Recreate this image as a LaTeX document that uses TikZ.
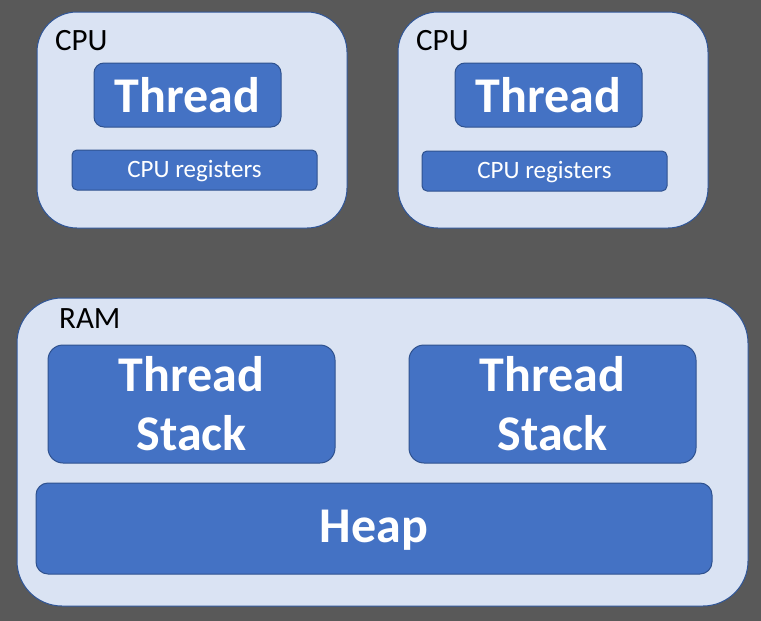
\documentclass[tikz,border=0pt]{standalone}
\usepackage{fontspec}
\setmainfont{Carlito}
\usepackage{xcolor}
\usetikzlibrary{positioning}

\definecolor{bggray}{HTML}{595959}
\definecolor{unitfill}{HTML}{DAE3F3}
\definecolor{unitline}{HTML}{2F5597}
\definecolor{partfill}{HTML}{4472C4}
\definecolor{partline}{HTML}{2F528F}

\tikzset{
	unit/.style = {draw = unitline, fill = unitfill, line width = 1pt, inner sep = 0pt},
	part/.style = {draw = partline, fill = partfill, line width = 1pt, inner sep = 0pt,
		text = white, align = center},
	unitlabel/.style = {anchor = base west, inner sep = 0pt, font = \fontsize{31}{37}\selectfont},
	big/.style = {font = \fontsize{50}{59}\selectfont\bfseries},
	small/.style = {font = \fontsize{25}{30}\selectfont}
}

\begin{document}
\begin{tikzpicture}[x = 1pt, y = -1pt]
		\def\cpuw{310};
		\def\cpuh{216};
		
		\fill [bggray] (0,0) rectangle (761,621);
		\useasboundingbox (0,0) rectangle (761,621);
		
		% two CPUs
		\node [unit, rounded corners = 40pt, minimum width = \cpuw pt, minimum height = \cpuh pt] (cpuA) at (192, 120) {};
		\node [unit, rounded corners = 40pt, minimum width = \cpuw pt, minimum height = \cpuh pt] (cpuB) at (553, 120) {};
		\node [unitlabel] (cpuAlabel) at (55, 50) {CPU};
		\node [unitlabel] (cpuBlabel) at (416, 50) {CPU};
		
		\node [part, big, rounded corners = 10pt, minimum width = 187pt, minimum height = 64pt] (threadA) at (187.5, 95) {Thread};
		\node [part, big, rounded corners = 10pt, minimum width = 187pt, minimum height = 64pt] (threadB) at (548.5, 95) {Thread};
		\node [part, small, rounded corners = 5pt, minimum width = 245pt, minimum height = 40pt, text depth = 2pt] (regsA) at (194.5, 170) {CPU registers};
		\node [part, small, rounded corners = 5pt, minimum width = 245pt, minimum height = 40pt, text depth = 2pt] (regsB) at (544.5, 171) {CPU registers};
		
		% memory
		\node [unit, rounded corners = 45pt, minimum width = 731pt, minimum height = 308pt] (ram) at (382.5, 452) {};
		\node [unitlabel] (ramlabel) at (59, 328) {RAM};
		
		\node [part, big, rounded corners = 15pt, minimum width = 287pt, minimum height = 118pt] (stackA) at (191.5, 404) {Thread\\Stack};
		\node [part, big, rounded corners = 15pt, minimum width = 287pt, minimum height = 118pt] (stackB) at (552.5, 404) {Thread\\Stack};
		\node [part, big, rounded corners = 12pt, minimum width = 676pt, minimum height = 91pt, text depth = 4pt] (heap) at (374, 528.5) {Heap};
	\end{tikzpicture}
\end{document}
